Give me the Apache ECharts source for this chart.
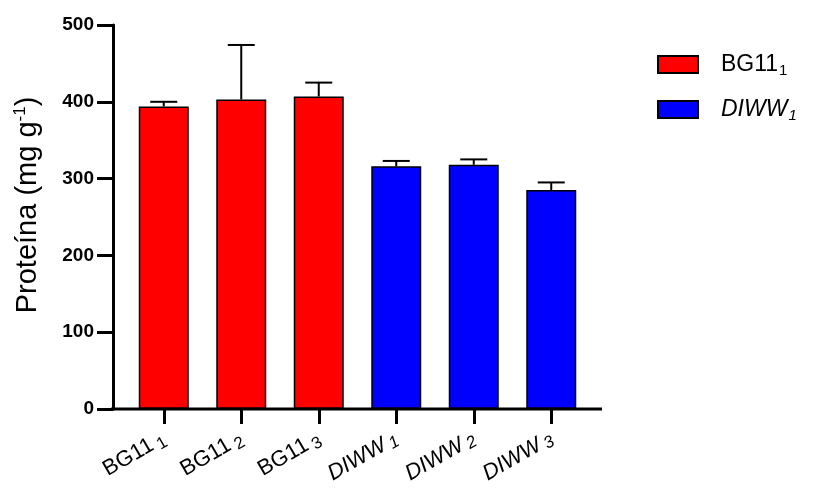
<!DOCTYPE html>
<html>
<head>
<meta charset="utf-8">
<script src="https://cdn.jsdelivr.net/npm/echarts@6/dist/echarts.min.js"></script>
<style>
  html, body { margin: 0; padding: 0; background: #fff; }
  #chart { width: 817px; height: 490px; }
</style>
</head>
<body>
<div id="chart"></div>
<script>
// categories, rich-text labels (base + subscript)
const categories = ['BG11_1', 'BG11_2', 'BG11_3', 'DIWW_1', 'DIWW_2', 'DIWW_3'];
const catLabels = [
  '{a|BG11}{s|1}', '{a|BG11}{s|2}', '{a|BG11}{s|3}',
  '{i|DIWW}{is|1}', '{i|DIWW}{is|2}', '{i|DIWW}{is|3}'
];
// mean protein values (mg g-1)
const bg11Values = [394, 403, 407, null, null, null];
const diwwValues = [null, null, null, 316, 318, 285];
// upper end of the error bar
const errTop = [400, 474, 425, 323, 325, 295];
const yTicks = [0, 100, 200, 300, 400, 500];

const FONT = 'Liberation Sans';
const chart = echarts.init(document.getElementById('chart'));

let errData = [];
for (let i = 0; i < categories.length; i++) {
  let mean = bg11Values[i] != null ? bg11Values[i] : diwwValues[i];
  errData.push([i, mean, errTop[i]]);
}

let option = {
  backgroundColor: '#fff',
  animation: false,
  grid: { left: 125, right: 227, top: 25, bottom: 81 },
  legend: {
    orient: 'vertical',
    left: 657,
    top: 53,
    padding: 0,
    itemWidth: 40,
    itemHeight: 17,
    itemGap: 20,
    icon: 'rect',
    data: ['BG11', 'DIWW'],
    formatter: function (name) {
      return name === 'BG11' ? '{a|BG11}{s|1}' : '{i|DIWW}{is|1}';
    },
    textStyle: {
      padding: [0, 0, 0, 18],
      rich: {
        a: { fontFamily: FONT, fontSize: 23, color: '#000' },
        s: { fontFamily: FONT, fontSize: 15, color: '#000', verticalAlign: 'bottom', padding: [12, 0, 0, 1] },
        i: { fontFamily: FONT, fontSize: 23, fontStyle: 'italic', color: '#000' },
        is: { fontFamily: FONT, fontSize: 15, fontStyle: 'italic', color: '#000', verticalAlign: 'bottom', padding: [12, 0, 0, 1] }
      }
    }
  },
  xAxis: {
    type: 'category',
    data: categories,
    axisLine: { show: false },
    axisTick: { show: true, alignWithLabel: true, length: 15, lineStyle: { color: '#000', width: 3 } },
    axisLabel: {
      rotate: 30,
      margin: 28,
      formatter: function (v, idx) { return catLabels[idx]; },
      rich: {
        a: { fontFamily: FONT, fontSize: 22, color: '#000' },
        s: { fontFamily: FONT, fontSize: 17, color: '#000', verticalAlign: 'bottom', padding: [10, 0, 0, 4] },
        i: { fontFamily: FONT, fontSize: 22, fontStyle: 'italic', color: '#000' },
        is: { fontFamily: FONT, fontSize: 17, fontStyle: 'italic', color: '#000', verticalAlign: 'bottom', padding: [8, 0, 0, 4] }
      }
    }
  },
  yAxis: {
    type: 'value',
    min: 0,
    max: 500,
    interval: 100,
    offset: 12,
    name: '{a|Proteína (mg g}{s|-1}{a|)}',
    nameLocation: 'middle',
    nameGap: 70,
    nameTextStyle: {
      padding: [0, 0, 0, 24],
      rich: {
        a: { fontFamily: FONT, fontSize: 29, color: '#000' },
        s: { fontFamily: FONT, fontSize: 17, color: '#000', verticalAlign: 'top', padding: [0, 0, 14, 0] }
      }
    },
    axisLine: { show: true, lineStyle: { color: '#000', width: 3 } },
    axisTick: { show: true, length: 16, lineStyle: { color: '#000', width: 3 } },
    axisLabel: {
      margin: 19,
      fontFamily: FONT,
      fontWeight: 'bold',
      fontSize: 19,
      color: '#000',
      formatter: function (v) { return yTicks.indexOf(v) >= 0 ? String(v) : ''; }
    },
    splitLine: { show: false }
  },
  graphic: [{
    type: 'line',
    shape: { x1: 111, y1: 409, x2: 602, y2: 409 },
    style: { stroke: '#000', lineWidth: 3 },
    z: 100
  }],
  series: [
    {
      name: 'BG11',
      type: 'bar',
      barWidth: 50,
      barGap: '-100%',
      data: bg11Values,
      itemStyle: { color: '#ff0000', borderColor: '#000', borderWidth: 1.5 }
    },
    {
      name: 'DIWW',
      type: 'bar',
      barWidth: 50,
      barGap: '-100%',
      data: diwwValues,
      itemStyle: { color: '#0000ff', borderColor: '#000', borderWidth: 1.5 }
    },
    {
      type: 'custom',
      name: 'err',
      data: errData,
      z: 10,
      renderItem: function (params, api) {
        let base = api.coord([api.value(0), api.value(1)]);
        let top = api.coord([api.value(0), api.value(2)]);
        let half = 13.5;
        return {
          type: 'group',
          children: [
            { type: 'line', shape: { x1: base[0], y1: base[1], x2: top[0], y2: top[1] }, style: { stroke: '#000', lineWidth: 2 } },
            { type: 'line', shape: { x1: top[0] - half, y1: top[1], x2: top[0] + half, y2: top[1] }, style: { stroke: '#000', lineWidth: 2 } }
          ]
        };
      }
    }
  ]
};

chart.setOption(option);
</script>
</body>
</html>
